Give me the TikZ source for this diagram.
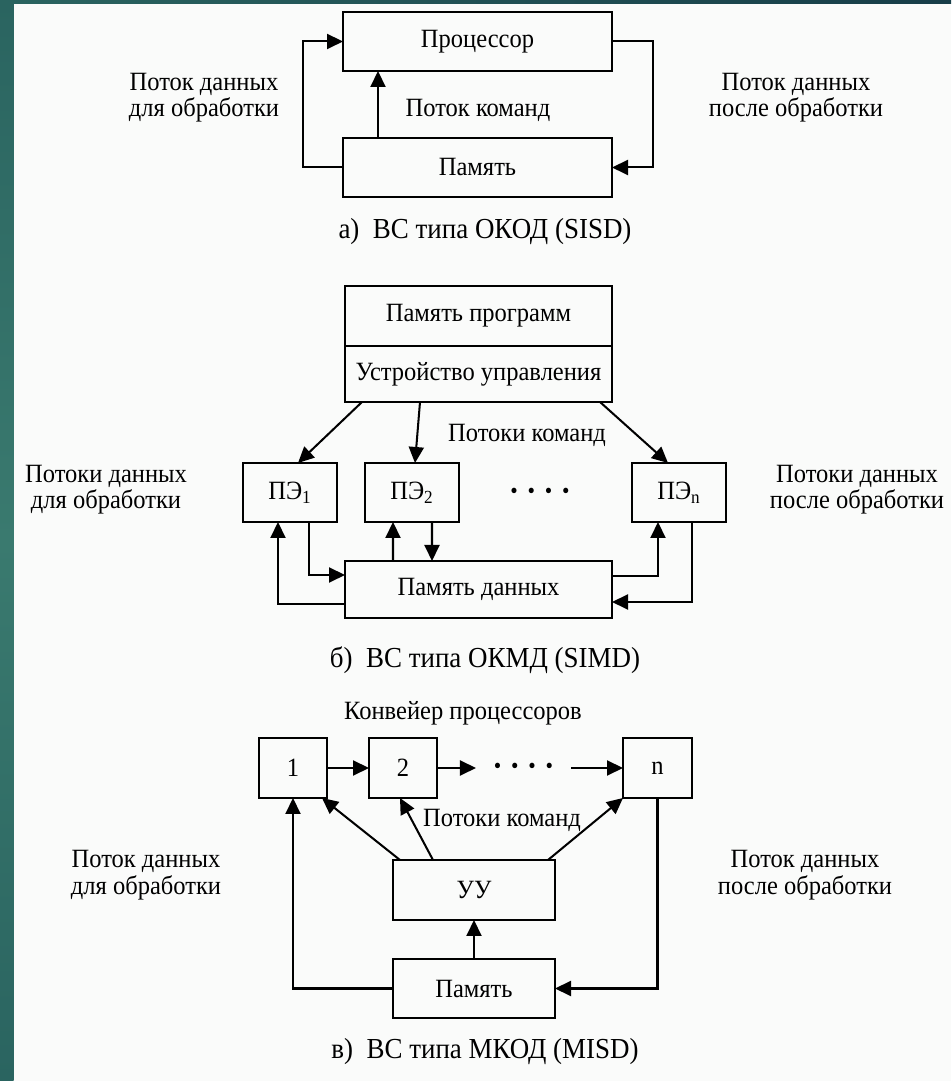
\documentclass[tikz,border=0pt]{standalone}
\usepackage{fontspec}
\setmainfont[FakeStretch=0.93]{Liberation Serif}
\usetikzlibrary{arrows.meta, positioning}
\definecolor{tealmid}{HTML}{3A7A6F}
\definecolor{tealtop}{HTML}{2A6460}
\definecolor{tealdark}{HTML}{173D48}
\definecolor{paper}{HTML}{FAFBFA}
\newcommand{\dotrow}{{\fontsize{13}{13}\selectfont •\hspace{5.6pt}•\hspace{5.6pt}•\hspace{5.6pt}•}}

\begin{document}
\begin{tikzpicture}[>={Triangle[length=0.32cm, width=0.3cm]}, node distance=1.5cm, line width=1.15pt,
    font=\fontsize{15}{15}\selectfont,
    box/.style = {draw, minimum width=#1, minimum height=1.18cm, inner sep=0pt, outer sep=0pt},
    box/.default = 1.88cm,
    lbl/.style = {align=center},
    captxt/.style = {font=\fontsize{16.5}{16.5}\selectfont}]

      % Background
      \useasboundingbox (0,0) rectangle (19.02,21.62);
      \fill[paper] (0,0) rectangle (19.02,21.62);
      \shade[top color=tealtop, bottom color=tealtop, middle color=tealmid] (0,0) rectangle (0.27,21.62);
      \shade[left color=tealtop, right color=tealdark] (0,21.54) rectangle (19.02,21.62);

      % a) SISD
      \node[box=5.38cm] (a1) at (9.55,20.79) {Процессор};
      \node[box=5.38cm, below of=a1, yshift=-1.02cm] (a2) {Память};
      \node (a3) at (9.56,19.42) {Поток команд};
      \node[lbl] (a4) at (4.08,19.67) {Поток данных\\для обработки};
      \node[lbl] (a5) at (15.92,19.67) {Поток данных\\после обработки};
      \node[captxt] (a6) at (9.7,16.98) {а)~~ВС типа ОКОД (SISD)};

      \draw[->] (a2.west) -- ++(-0.8,0) |- (a1.west);
      \draw[->] (a1.east) -- ++(0.82,0) |- (a2.east);
      \draw[->] ([xshift=-1.99cm]a2.north) -- ([xshift=-1.99cm]a1.south);

      % b) SIMD
      \node[box=5.34cm, minimum height=1.2cm] (b1) at (9.57,15.3) {Память программ};
      \node[box=5.34cm, minimum height=1.12cm, below=0pt of b1] (b2) {Устройство управления};
      \node[box] (b3) at (5.8,11.77) {ПЭ\textsubscript{1}};
      \node[box, right of=b3, xshift=0.94cm] (b4) {ПЭ\textsubscript{2}};
      \node[box, right of=b4, xshift=3.84cm] (b5) {ПЭ\textsubscript{n}};
      \node (b6) at (10.8,11.75) {\dotrow};
      \node[box=5.34cm, minimum height=1.14cm] (b7) at (9.57,9.83) {Память данных};
      \node (b8) at (10.54,12.92) {Потоки команд};
      \node[lbl] (b9) at (2.12,11.82) {Потоки данных\\для обработки};
      \node[lbl] (b10) at (17.14,11.82) {Потоки данных\\после обработки};
      \node[captxt] (b11) at (9.7,8.42) {б)~~ВС типа ОКМД (SIMD)};

      \draw[->] ([xshift=-2.33cm]b2.south) -- ([xshift=0.16cm]b3.north);
      \draw[->] ([xshift=-1.17cm]b2.south) -- ([xshift=0.06cm]b4.north);
      \draw[->] ([xshift=2.43cm]b2.south) -- ([xshift=-0.22cm]b5.north);
      \draw[->] ([yshift=-0.29cm]b7.west) -| ([xshift=-0.24cm]b3.south);
      \draw[->] ([xshift=0.38cm]b3.south) |- ([yshift=0.29cm]b7.west);
      \draw[->] ([xshift=-1.71cm]b7.north) -- ([xshift=-0.38cm]b4.south);
      \draw[->] ([xshift=0.4cm]b4.south) -- ([xshift=-0.93cm]b7.north);
      \draw[->] ([yshift=0.27cm]b7.east) -| ([xshift=-0.42cm]b5.south);
      \draw[->] ([xshift=0.26cm]b5.south) |- ([yshift=-0.25cm]b7.east);

      % c) MISD
      \node (c1) at (9.26,7.36) {Конвейер процессоров};
      \node[box=1.36cm, minimum height=1.2cm] (c2) at (5.86,6.26) {1};
      \node[box=1.36cm, minimum height=1.2cm, right of=c2, xshift=0.7cm] (c3) {2};
      \node[minimum width=1.86cm, inner sep=0pt, right of=c3, xshift=0.91cm] (c4) {\dotrow};
      \node[box=1.38cm, minimum height=1.2cm, right of=c3, xshift=3.59cm] (c5) {n};
      \node[box=3.24cm, minimum height=1.2cm] (c6) at (9.48,3.82) {УУ};
      \node[box=3.24cm, below of=c6, yshift=-0.47cm] (c7) {Память};
      \node (c8) at (10.04,5.22) {Потоки команд};
      \node[lbl] (c9) at (2.92,4.12) {Поток данных\\для обработки};
      \node[lbl] (c10) at (16.1,4.12) {Поток данных\\после обработки};
      \node[captxt] (c11) at (9.7,0.58) {в)~~ВС типа МКОД (MISD)};

      \draw[->] (c2) -- (c3);
      \draw[->] (c3) -- (c4);
      \draw[->] (c4) -- (c5);
      \draw[->] (c7) -- (c6);
      \draw[->] (c7.west) -| (c2.south);
      \draw[->] (c5.south) |- (c7.east);
      \draw[->] ([xshift=-1.48cm]c6.north) -- ([xshift=0.58cm]c2.south);
      \draw[->] ([xshift=-0.82cm]c6.north) -- ([xshift=-0.06cm]c3.south);
      \draw[->] ([xshift=1.48cm]c6.north) -- (c5.south west);

    \end{tikzpicture}
\end{document}
